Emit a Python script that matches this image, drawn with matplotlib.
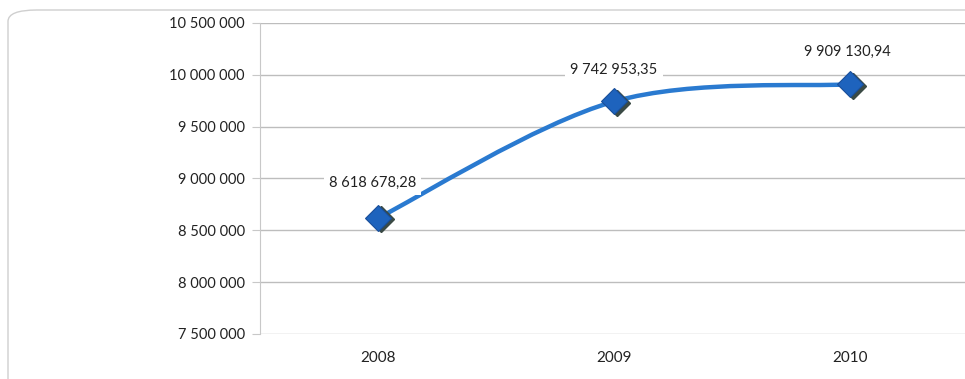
import numpy as np
import matplotlib
matplotlib.use("Agg")
import matplotlib.pyplot as plt
from matplotlib.path import Path
from matplotlib.patches import PathPatch, FancyBboxPatch
from matplotlib.ticker import FuncFormatter

years = ["2008", "2009", "2010"]
values = [8618678.28, 9742953.35, 9909130.94]
value_labels = ["8 618 678,28", "9 742 953,35", "9 909 130,94"]

plt.rcParams["font.family"] = ["Lato", "DejaVu Sans"]

fig = plt.figure(figsize=(9.65, 3.79), dpi=100)
ax = fig.add_axes([260 / 965, 45 / 379, 708 / 965, 311 / 379])

x = np.arange(len(values), dtype=float)
y = np.array(values)

# smoothed line: cubic bezier segments, control points from neighbour slopes
verts = [(x[0], y[0])]
codes = [Path.MOVETO]
n = len(x)
for i in range(n - 1):
    p_prev = (x[i - 1], y[i - 1]) if i > 0 else (x[i], y[i])
    p_next2 = (x[i + 2], y[i + 2]) if i + 2 < n else (x[i + 1], y[i + 1])
    c1 = (x[i] + (x[i + 1] - p_prev[0]) / 6, y[i] + (y[i + 1] - p_prev[1]) / 6)
    c2 = (x[i + 1] - (p_next2[0] - x[i]) / 6, y[i + 1] - (p_next2[1] - y[i]) / 6)
    verts += [c1, c2, (x[i + 1], y[i + 1])]
    codes += [Path.CURVE4] * 3
ax.add_patch(PathPatch(Path(verts, codes), facecolor="none",
                       edgecolor="#2a7ad0", lw=3.2, zorder=3, capstyle="round"))

# marker shadow + marker
ax.plot(x + 0.012, y - 14000, linestyle="none", marker="D", ms=13,
        color="#3a4a45", zorder=4)
ax.plot(x, y, linestyle="none", marker="D", ms=13,
        color="#1e63bd", markeredgecolor="#1a4f9a", mew=0.8, zorder=5)

# data labels, offsets given in points from each marker
label_off = [(-4, 25), (0, 23), (-2, 23)]
for xi, yi, txt, off in zip(x, y, value_labels, label_off):
    ax.annotate(txt, (xi, yi), xytext=off, textcoords="offset points",
                ha="center", va="center", fontsize=10.5, color="#222222", zorder=6,
                bbox=dict(boxstyle="square,pad=0.35", fc="white", ec="none"))

ax.set_xlim(-0.5, 2.5)
ax.set_ylim(7500000, 10500000)
ax.set_yticks(np.arange(7500000, 10500001, 500000))
ax.yaxis.set_major_formatter(FuncFormatter(lambda v, p: f"{int(v):,}".replace(",", " ")))
ax.set_xticks(x)
ax.set_xticklabels(years)
ax.grid(axis="y", color="#bdbdbd", lw=1)
ax.set_axisbelow(True)
for s in ["top", "right", "bottom"]:
    ax.spines[s].set_visible(False)
ax.spines["left"].set_color("#c8c8c8")
ax.tick_params(axis="y", length=6, color="#c8c8c8", labelsize=10.5, pad=5, labelcolor="#222222")
ax.tick_params(axis="x", length=0, labelsize=11, pad=12, labelcolor="#222222")

# rounded frame around the chart area
fig.patches.append(FancyBboxPatch((8 / 965, -0.1), 1.2, 1.1 - 10 / 379,
                                  boxstyle="round,pad=0,rounding_size=0.03",
                                  transform=fig.transFigure, fc="none",
                                  ec="#cfcfcf", lw=1))

fig.savefig("out.png", dpi=100)
